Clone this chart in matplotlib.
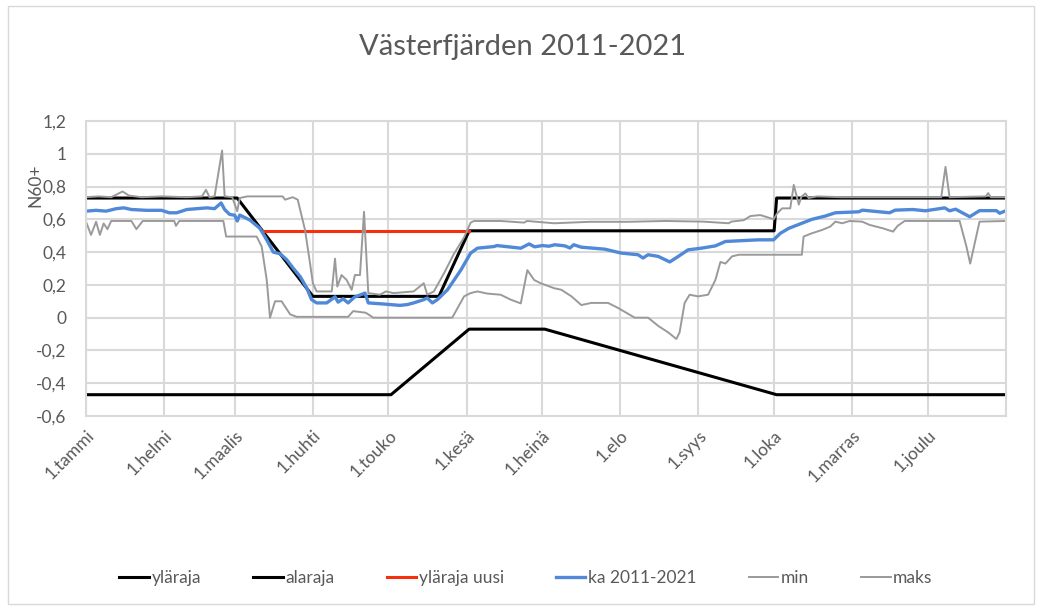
import matplotlib.pyplot as plt
from matplotlib.patches import Rectangle

# Päivä vuoden alusta (0 = 1.tammi) ja vedenkorkeus (N60+)
kuukausi_paivat = [0, 31, 59, 90, 120, 151, 181, 212, 243, 273, 304, 334]
kuukausi_nimet = ['1.tammi', '1.helmi', '1.maalis', '1.huhti', '1.touko', '1.kesä',
                  '1.heinä', '1.elo', '1.syys', '1.loka', '1.marras', '1.joulu']
y_tikit = [-0.6, -0.4, -0.2, 0, 0.2, 0.4, 0.6, 0.8, 1.0, 1.2]
y_nimet = ['-0,6', '-0,4', '-0,2', '0', '0,2', '0,4', '0,6', '0,8', '1', '1,2']

ylaraja_pv = [0, 60, 90, 140, 152, 273, 274, 365]
ylaraja = [0.73, 0.73, 0.13, 0.13, 0.53, 0.53, 0.73, 0.73]

alaraja_pv = [0, 121, 152, 182, 274, 365]
alaraja = [-0.47, -0.47, -0.07, -0.07, -0.47, -0.47]

uusi_pv = [70, 152]
uusi = [0.53, 0.53]

ka_pv = [0, 4, 8, 12, 15, 18, 24, 30, 33, 36, 40, 44, 48, 51, 53.6, 55, 57, 59, 60, 61,
         65, 69, 71.7, 74.3, 77, 79.6, 82.3, 85, 87.6, 89.5, 91.5, 95.5, 98.8, 100, 102,
         104, 106.5, 110.7, 112, 116.6, 124.6, 127.5, 130, 134, 135.4, 137.4, 139.4,
         143.4, 148.7, 152.6, 155.3, 161.9, 163, 172.5, 175.8, 178, 181, 183.7, 186, 190,
         192, 193.5, 196.5, 205.8, 212.4, 219, 221, 223, 227, 231.6, 235, 238.9, 244.1,
         249.7, 253.7, 266.9, 272.8, 275.5, 278.8, 284, 288, 293.3, 297.3, 306.6, 308,
         318.8, 321, 328, 333, 340.7, 342.6, 345, 350.6, 354.5, 361.2, 362.5, 365]
ka = [0.65, 0.655, 0.65, 0.665, 0.67, 0.66, 0.655, 0.655, 0.64, 0.64, 0.66, 0.665, 0.67,
      0.665, 0.70, 0.66, 0.63, 0.625, 0.59, 0.626,
      0.596, 0.545, 0.475, 0.40, 0.39, 0.354, 0.30, 0.25, 0.18, 0.11, 0.09, 0.09, 0.127,
      0.095, 0.115, 0.09, 0.125, 0.15, 0.09, 0.085, 0.075, 0.08, 0.09, 0.11, 0.12, 0.09,
      0.11, 0.17, 0.29, 0.394, 0.424, 0.434, 0.44, 0.424, 0.45, 0.432, 0.44, 0.436,
      0.445, 0.438, 0.425, 0.445, 0.43, 0.418, 0.394, 0.384, 0.364, 0.384, 0.374, 0.34,
      0.374, 0.414, 0.424, 0.438, 0.465, 0.475, 0.475, 0.515, 0.545, 0.576, 0.60, 0.62,
      0.64, 0.646, 0.656, 0.64, 0.656, 0.66, 0.652, 0.67, 0.652, 0.662, 0.616, 0.653,
      0.653, 0.637, 0.653]

min_pv = [0, 2, 4, 5.5, 7, 8.5, 10, 18, 20, 22.5, 35, 35.7, 37, 54.5, 55.6, 67.7, 69.7,
          71.7, 73, 75, 77.6, 81, 83.6, 104, 106, 111, 114, 145.3, 150, 152.6, 155.3,
          159.2, 164.5, 168.5, 172.5, 175.1, 177.8, 180.4, 185.7, 188.6, 192.6, 196.5,
          200.5, 207.1, 211, 217.7, 223, 227, 231, 234.2, 235.5, 237.5, 239.5, 242.8,
          246.8, 249.7, 251.7, 253.7, 256.3, 259, 284, 284.7, 288, 292, 295.3, 297.3, 300,
          303, 307.9, 310.9, 316.2, 320.2, 322, 324.8, 346.6, 349.3, 350.8, 352.6, 354.5, 365]
min_arvot = [0.586, 0.505, 0.585, 0.505, 0.575, 0.54, 0.59, 0.59, 0.54, 0.59, 0.59, 0.56,
             0.59, 0.59, 0.495, 0.495, 0.434, 0.23, 0.0, 0.10, 0.10, 0.02, 0.005, 0.005,
             0.04, 0.03, 0.0, 0.0, 0.13, 0.15, 0.16, 0.147, 0.14, 0.11, 0.087, 0.29, 0.23,
             0.21, 0.18, 0.17, 0.13, 0.077, 0.09, 0.09, 0.06, 0.0, 0.0, -0.05, -0.09, -0.13,
             -0.09, 0.09, 0.14, 0.13, 0.14, 0.23, 0.34, 0.33, 0.374, 0.384, 0.384, 0.495,
             0.515, 0.535, 0.556, 0.586, 0.576, 0.59, 0.586, 0.566, 0.545, 0.525, 0.56, 0.59,
             0.59, 0.434, 0.33, 0.455, 0.586, 0.59]

maks_pv = [0, 5, 10, 14.5, 17, 22, 30, 40, 46, 47.6, 49, 51, 54, 55, 58, 60, 61, 64, 78, 79,
           82, 84, 86.9, 88.9, 90, 91.5, 97.5, 98.8, 99.7, 101.4, 103.4, 105.4, 106.7,
           108.7, 110.3, 112, 116.6, 119, 122, 130, 134, 135.4, 138, 142, 146, 150, 152.6,
           154, 164.5, 173.8, 175, 185.7, 200, 215, 230, 245, 255, 256, 261, 263.6, 267.5,
           270.9, 272.8, 274.2, 276.2, 279.4, 280.8, 282.8, 283.8, 285.4, 286.7, 290, 300,
           339.3, 341, 342.6, 357, 357.9, 359, 365]
maks = [0.735, 0.74, 0.735, 0.77, 0.745, 0.735, 0.74, 0.735, 0.74, 0.78, 0.735, 0.74, 1.02,
        0.74, 0.735, 0.65, 0.73, 0.74, 0.74, 0.72, 0.735, 0.72, 0.535, 0.33, 0.21, 0.16,
        0.16, 0.36, 0.19, 0.26, 0.23, 0.17, 0.26, 0.26, 0.646, 0.15, 0.14, 0.16, 0.15,
        0.16, 0.21, 0.14, 0.16, 0.27, 0.39, 0.49, 0.58, 0.59, 0.59, 0.58, 0.59, 0.576,
        0.585, 0.585, 0.59, 0.586, 0.576, 0.586, 0.595, 0.62, 0.626, 0.61, 0.60, 0.636,
        0.667, 0.667, 0.81, 0.69, 0.737, 0.758, 0.73, 0.74, 0.735, 0.735, 0.92, 0.735,
        0.74, 0.76, 0.735, 0.735]

teksti = '#595959'
ruudukko = '#D9D9D9'
harmaa = '#9A9A9A'

plt.rcParams['font.family'] = ['Lato', 'DejaVu Sans']

fig = plt.figure(figsize=(10.44, 6.1), dpi=100)
ax = fig.add_axes([86 / 1044, 1 - 416 / 610, 920 / 1044, 295 / 610])

ax.plot(ylaraja_pv, ylaraja, color='black', lw=2.2, label='yläraja')
ax.plot(alaraja_pv, alaraja, color='black', lw=2.2, label='alaraja')
ax.plot(uusi_pv, uusi, color='#F5300F', lw=2.2, label='yläraja uusi')
ax.plot(ka_pv, ka, color='#5089D8', lw=2.4, label='ka 2011-2021')
ax.plot(min_pv, min_arvot, color=harmaa, lw=1.4, label='min')
ax.plot(maks_pv, maks, color=harmaa, lw=1.4, label='maks')

ax.set_xlim(0, 365)
ax.set_ylim(-0.6, 1.2)
ax.set_xticks(kuukausi_paivat)
ax.set_xticklabels(kuukausi_nimet, rotation=45, ha='right', va='top',
                   rotation_mode='anchor', fontsize=12.5, color=teksti)
ax.set_yticks(y_tikit)
ax.set_yticklabels(y_nimet, fontsize=12.5, color=teksti)
ax.tick_params(axis='both', length=0)
ax.tick_params(axis='y', pad=14)
ax.tick_params(axis='x', pad=8)
ax.grid(True, color=ruudukko, lw=1.5)
ax.set_axisbelow(True)
for s in ax.spines.values():
    s.set_color(ruudukko)
    s.set_linewidth(1.5)

fig.text(523 / 1044, 1 - 47 / 610, 'Västerfjärden 2011-2021', ha='center', va='center',
         fontsize=21, color=teksti)
fig.text(35 / 1044, 1 - 185 / 610, 'N60+', rotation=90, ha='center', va='center',
         fontsize=12.5, color=teksti)

fig.legend(loc='center', bbox_to_anchor=(526 / 1044, 1 - 578 / 610), ncol=6,
           frameon=False, fontsize=12.5, labelcolor=teksti, handlelength=1.7,
           handletextpad=0.15, columnspacing=3.0)

fig.patches.append(Rectangle((8 / 1044, 6 / 610), 1026 / 1044, 598 / 610,
                             transform=fig.transFigure, fill=False,
                             edgecolor=ruudukko, lw=1))

plt.savefig('out.png', dpi=100)
